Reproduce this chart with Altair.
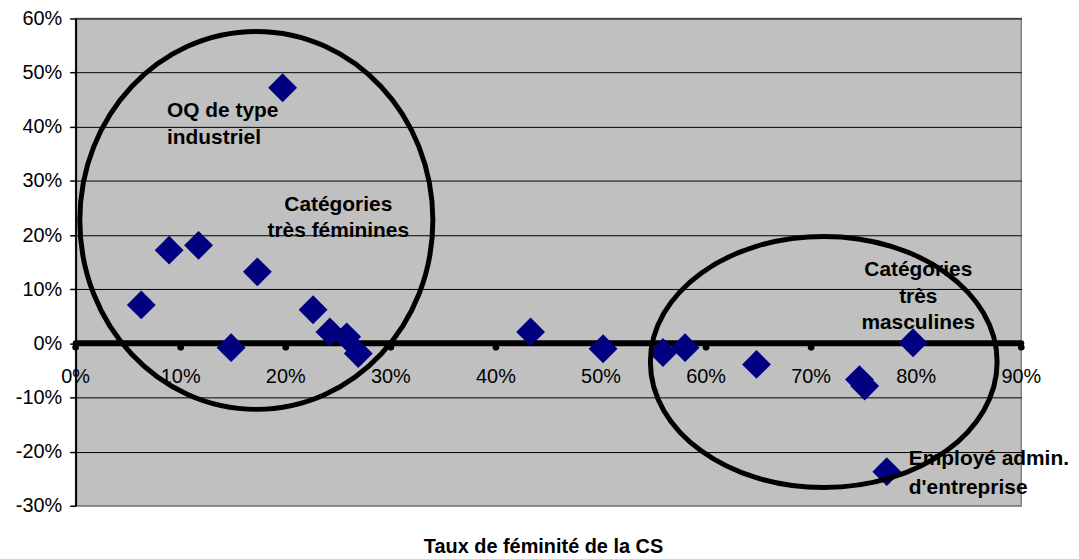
import altair as alt
import pandas as pd

# ---- data (in percent) ----
x_vals = [6.25, 8.9, 11.7, 14.8, 17.3, 19.7, 22.6, 24.2, 25.8, 26.9,
          43.3, 50.2, 55.9, 58.0, 64.8, 74.6, 75.1, 79.7, 77.2]
y_vals = [7.1, 17.2, 18.1, -0.8, 13.2, 47.2, 6.2, 2.1, 1.2, -1.9,
          2.1, -1.0, -1.7, -0.8, -3.9, -6.7, -7.9, 0.1, -23.7]

x_ticks = [0, 10, 20, 30, 40, 50, 60, 70, 80, 90]
y_ticks = [-30, -20, -10, 0, 10, 20, 30, 40, 50, 60]

# annotations (lines of text, anchor position in data units)
ann_left_text = ["OQ de type", "industriel", "Employé admin.", "d'entreprise"]
ann_left_x = [8.7, 8.7, 79.3, 79.3]
ann_left_y = [42.9, 37.9, -21.4, -26.7]

ann_center_text = ["Catégories", "très féminines", "Catégories", "très", "masculines"]
ann_center_x = [25.0, 25.0, 80.2, 80.2, 80.2]
ann_center_y = [25.6, 20.7, 13.6, 8.6, 3.7]

# ellipses (centre and half-axes in data units)
ell_cx = [17.2, 71.2]
ell_cy = [22.7, -3.45]
ell_rx = [16.8, 16.5]
ell_ry = [34.9, 23.2]

FONT = "Liberation Sans"
W, H = 951, 490
px_x = W / 90.0
px_y = H / 90.0

x_enc = alt.X("x:Q",
              scale=alt.Scale(domain=[0, 90], nice=False, zero=False),
              axis=alt.Axis(labels=False, ticks=False, domain=False, grid=False,
                            title="Taux de féminité de la CS",
                            titleFont=FONT, titleFontSize=20, titleFontWeight="bold",
                            titleColor="black", titleX=470, titleY=41,
                            titleAlign="center", titleBaseline="middle"))
y_enc = alt.Y("y:Q",
              scale=alt.Scale(domain=[-30, 60], nice=False, zero=False),
              axis=alt.Axis(values=y_ticks, labelExpr="datum.value + '%'", title=None,
                            grid=True,
                            gridColor={"condition": {"test": "datum.value === -30", "value": "#808080"},
                                       "value": "black"},
                            gridWidth=1, domainColor="black", domainWidth=2,
                            tickColor="black", tickSize=6, tickWidth=1.5,
                            labelFont=FONT, labelFontSize=20, labelColor="black",
                            labelPadding=8))

pts = pd.DataFrame({"x": x_vals, "y": y_vals})
rule_df = pd.DataFrame({"x": [x_ticks[0]], "x2": [x_ticks[-1]], "y": [0]})
tick_df = pd.DataFrame({"x": x_ticks, "y": [0] * len(x_ticks),
                        "lab": [f"{v}%" for v in x_ticks]})
annL = pd.DataFrame({"x": ann_left_x, "y": ann_left_y, "t": ann_left_text})
annC = pd.DataFrame({"x": ann_center_x, "y": ann_center_y, "t": ann_center_text})

zero_line = alt.Chart(rule_df).mark_rule(color="black", strokeWidth=6, strokeCap="round").encode(
    x=x_enc, x2="x2:Q", y=y_enc)
tick_dots = alt.Chart(tick_df).mark_point(shape="circle", filled=True, color="black",
                                          size=45, opacity=1, yOffset=4).encode(x=x_enc, y=y_enc)
x_labels = alt.Chart(tick_df).mark_text(font=FONT, fontSize=20, color="black", dy=34).encode(
    x=x_enc, y=y_enc, text="lab:N")
points = alt.Chart(pts).mark_point(shape="diamond", filled=True, color="#000080",
                                   size=841, opacity=1).encode(x=x_enc, y=y_enc)
textL = alt.Chart(annL).mark_text(font=FONT, fontSize=21, fontWeight="bold", color="black",
                                  align="left", baseline="middle").encode(x=x_enc, y=y_enc, text="t:N")
textC = alt.Chart(annC).mark_text(font=FONT, fontSize=21, fontWeight="bold", color="black",
                                  align="center", baseline="middle").encode(x=x_enc, y=y_enc, text="t:N")


def ellipse_path(b):
    k = 0.5523
    return (f"M 1 0 C 1 {k*b:.4f} {k} {b:.4f} 0 {b:.4f} "
            f"C {-k} {b:.4f} -1 {k*b:.4f} -1 0 "
            f"C -1 {-k*b:.4f} {-k} {-b:.4f} 0 {-b:.4f} "
            f"C {k} {-b:.4f} 1 {-k*b:.4f} 1 0 Z")


ellipses = []
for cx, cy, rx, ry in zip(ell_cx, ell_cy, ell_rx, ell_ry):
    rx_px = rx * px_x
    ry_px = ry * px_y
    b = ry_px / rx_px
    df = pd.DataFrame({"x": [cx], "y": [cy]})
    ellipses.append(
        alt.Chart(df).mark_point(shape=ellipse_path(b), filled=False, stroke="black",
                                 strokeWidth=5, opacity=1, size=(2 * rx_px) ** 2)
        .encode(x=x_enc, y=y_enc)
    )

chart = alt.layer(zero_line, tick_dots, x_labels, points, textL, textC, *ellipses).properties(
    width=W, height=H,
    autosize=alt.AutoSizeParams(type="none"),
    padding={"left": 68, "top": 9, "right": 50, "bottom": 50},
).configure_view(fill="#C0C0C0", stroke="#808080", strokeWidth=1.5)

chart.save("out.html", embed_options={"renderer": "svg", "actions": False})
